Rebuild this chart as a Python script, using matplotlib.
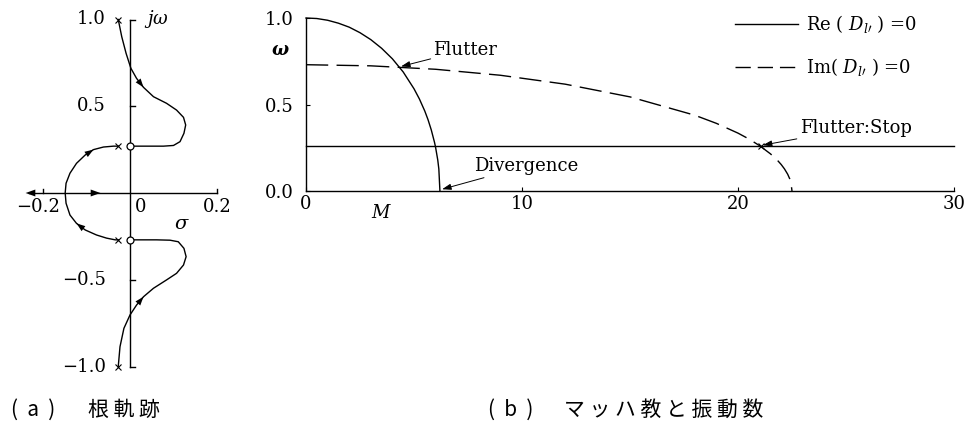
import matplotlib
matplotlib.use('Agg')
import matplotlib.pyplot as plt

plt.rcParams['font.family'] = ['DejaVu Serif']
plt.rcParams['mathtext.fontset'] = 'dejavuserif'

# ---- (a) root locus, points as (sigma, omega) ----
pole_sigma = [-0.027, -0.027, -0.027, -0.027]
pole_omega = [1.0, 0.27, -0.27, -1.0]
zero_sigma = [0.0, 0.0]
zero_omega = [0.27, -0.27]

# pole at +1.0 down to the zero at +0.27
upper_sigma = [-0.027, -0.019, -0.009, 0.002, 0.015, 0.031, 0.054, 0.084, 0.107,
               0.123, 0.128, 0.124, 0.115, 0.100, 0.077, 0.046, 0.023, 0.008]
upper_omega = [1.0, 0.901, 0.805, 0.719, 0.661, 0.609, 0.555, 0.517, 0.478,
               0.436, 0.392, 0.344, 0.296, 0.274, 0.27, 0.27, 0.27, 0.27]
# pole at -1.0 up to the zero at -0.27
lower_sigma = [-0.027, -0.023, -0.014, 0.0, 0.015, 0.031, 0.054, 0.084, 0.107,
               0.123, 0.129, 0.124, 0.111, 0.092, 0.061, 0.023, 0.008]
lower_omega = [-1.0, -0.886, -0.780, -0.703, -0.646, -0.598, -0.549, -0.501, -0.463,
               -0.415, -0.367, -0.319, -0.281, -0.272, -0.27, -0.27, -0.27]
# the pair of poles at +-0.27 meeting on the real axis
middle_sigma = [-0.027, -0.038, -0.061, -0.084, -0.103, -0.123, -0.138, -0.147, -0.149,
                -0.147, -0.138, -0.123, -0.103, -0.077, -0.054, -0.034, -0.027]
middle_omega = [0.27, 0.27, 0.265, 0.250, 0.219, 0.171, 0.114, 0.056, 0.0,
                -0.059, -0.127, -0.175, -0.213, -0.242, -0.260, -0.27, -0.27]

# ---- (b) Mach number vs frequency ----
re_M = [0, 0.5, 1, 1.5, 2, 2.5, 3, 3.5, 4, 4.5, 5, 5.25, 5.5, 5.65, 5.8, 5.95,
        6.0, 6.1, 6.15, 6.2]
re_w = [1.0, 0.997, 0.987, 0.970, 0.947, 0.915, 0.875, 0.825, 0.764, 0.688, 0.591,
        0.532, 0.462, 0.412, 0.353, 0.281, 0.252, 0.179, 0.127, 0.0]
im_M = [0, 3, 6, 9, 12, 15, 18, 19, 20, 20.5, 21, 21.5, 21.8, 22, 22.15, 22.3,
        22.4, 22.45, 22.5]
im_w = [0.73, 0.7235, 0.7036, 0.669, 0.6175, 0.544, 0.438, 0.391, 0.3345, 0.301,
        0.262, 0.215, 0.181, 0.153, 0.128, 0.097, 0.069, 0.049, 0.0]
stop_w = 0.26
flutter_pt = (4.4, 0.72)
divergence_pt = (6.2, 0.0)
stop_pt = (21.05, 0.26)

W, H = 971, 438
fig = plt.figure(figsize=(W / 100, H / 100), dpi=100)

LW = 1.0
FS = 13


def head(ax, tail, tip, scale=9):
    ax.annotate('', xy=tip, xytext=tail,
                arrowprops=dict(arrowstyle='-|>,head_length=0.7,head_width=0.25',
                                color='k', lw=0, shrinkA=0, shrinkB=0,
                                mutation_scale=scale))


# ================= (a) =================
ax = fig.add_axes([21.25 / W, (H - 383.85) / H, 217.5 / W, 381.7 / H])
ax.set_xlim(-0.25, 0.25)
ax.set_ylim(-1.1, 1.1)
ax.axis('off')

# axes drawn by hand
ax.plot([0, 0], [-1, 1], color='k', lw=LW)
for yv in (1.0, 0.5, -0.5, -1.0):
    ax.plot([0, 0.012], [yv, yv], color='k', lw=LW)
ax.plot([-0.232, 0.2], [0, 0], color='k', lw=LW)
for xv in (-0.2, 0.2):
    ax.plot([xv, xv], [0, 0.025], color='k', lw=LW)
head(ax, (-0.22, 0), (-0.240, 0), scale=10)
head(ax, (-0.085, 0), (-0.068, 0), scale=10)

# loci
ax.plot(upper_sigma, upper_omega, color='k', lw=LW)
ax.plot(lower_sigma, lower_omega, color='k', lw=LW)
ax.plot(middle_sigma, middle_omega, color='k', lw=LW)
head(ax, (upper_sigma[4], upper_omega[4]), (upper_sigma[5], upper_omega[5]))
head(ax, (lower_sigma[4], lower_omega[4]), (lower_sigma[5], lower_omega[5]))
head(ax, (middle_sigma[4], middle_omega[4]), (middle_sigma[3], middle_omega[3]))
head(ax, (middle_sigma[12], middle_omega[12]), (middle_sigma[11], middle_omega[11]))

ax.plot(pole_sigma, pole_omega, 'x', color='k', ms=4.5, mew=0.8)
ax.plot(zero_sigma, zero_omega, 'o', color='k', mfc='white', ms=5, mew=0.9, zorder=5)

for yv, lab in ((1.0, '1.0'), (0.5, '0.5'), (-0.5, '\u22120.5'), (-1.0, '\u22121.0')):
    ax.text(-0.055, yv, lab, ha='right', va='center', fontsize=FS)
ax.text(-0.212, -0.083, '\u22120.2', ha='center', va='center', fontsize=FS)
ax.text(0.011, -0.083, '0', ha='left', va='center', fontsize=FS)
ax.text(0.2, -0.083, '0.2', ha='center', va='center', fontsize=FS)
ax.text(0.12, -0.18, r'$\sigma$', ha='center', va='center', fontsize=FS + 1)
ax.text(0.033, 1.0, r'$j\omega$', ha='left', va='center', fontsize=FS)

# ================= (b) =================
bx = fig.add_axes([306 / W, (H - 191) / H, 648 / W, 173 / H])
bx.set_xlim(0, 30)
bx.set_ylim(0, 1)
for s in ('top', 'right'):
    bx.spines[s].set_visible(False)
for s in ('left', 'bottom'):
    bx.spines[s].set_linewidth(LW)
bx.set_xticks([0, 10, 20, 30])
bx.set_xticklabels(['0', '10', '20', '30'])
bx.set_yticks([0, 0.5, 1.0])
bx.set_yticklabels(['0.0', '0.5', '1.0'])
bx.tick_params(axis='both', direction='in', length=3, width=0.8, labelsize=FS)
bx.tick_params(axis='x', pad=3)
bx.tick_params(axis='y', pad=9)

bx.plot(re_M, re_w, color='k', lw=LW, clip_on=False)
bx.plot(im_M, im_w, color='k', lw=LW, dashes=(16, 6), clip_on=False)
bx.plot([0, 30], [stop_w, stop_w], color='k', lw=LW, clip_on=False)
bx.plot(*stop_pt, 'x', color='k', ms=4, mew=0.8)

arrow_kw = dict(arrowstyle='-|>,head_length=0.6,head_width=0.2', color='k',
                lw=0.7, shrinkA=0, shrinkB=0, mutation_scale=9)
bx.annotate('Flutter', xy=flutter_pt, xytext=(5.9, 0.815), fontsize=FS,
            ha='left', va='center', arrowprops=arrow_kw)
bx.annotate('Divergence', xy=(divergence_pt[0] + 0.1, divergence_pt[1] + 0.01),
            xytext=(7.8, 0.145), fontsize=FS, ha='left', va='center',
            arrowprops=arrow_kw)
bx.annotate('Flutter:Stop', xy=(stop_pt[0] + 0.1, stop_pt[1] + 0.005),
            xytext=(22.85, 0.364), fontsize=FS, ha='left', va='center',
            arrowprops=arrow_kw)

# legend drawn by hand
bx.plot([19.86, 22.78], [0.965, 0.965], color='k', lw=LW)
bx.plot([19.86, 22.78], [0.717, 0.717], color='k', lw=LW, dashes=(11, 5))
bx.text(23.15, 0.965, r'Re ( $D_{l\prime}$ ) =0', fontsize=FS, ha='left', va='center')
bx.text(23.15, 0.717, r'Im( $D_{l\prime}$ ) =0', fontsize=FS, ha='left', va='center')

bx.text(-1.2, 0.815, '\u03c9', fontsize=FS, ha='center', va='center',
        fontweight='bold', fontstyle='italic', clip_on=False)
bx.text(3.5, -0.13, r'$M$', fontsize=FS, ha='center', va='center', clip_on=False)

# captions
cjk = ['Noto Sans CJK JP', 'DejaVu Sans']
cap_y = 1 - 410 / H
fig.text(11 / W, cap_y, '(  a  )', family=cjk, fontsize=15, ha='left', va='center')
fig.text(88 / W, cap_y, '根 軌 跡', family=cjk, fontsize=15, ha='left', va='center')
fig.text(488 / W, cap_y, '(  b  )', family=cjk, fontsize=15, ha='left', va='center')
fig.text(564 / W, cap_y, 'マ ッ ハ 教 と 振 動 数', family=cjk, fontsize=15,
         ha='left', va='center')

fig.savefig('out.png', dpi=100)
